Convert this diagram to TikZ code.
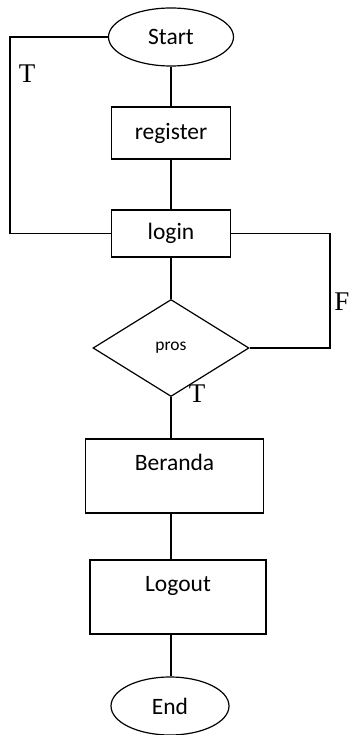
\documentclass[tikz,border=0pt]{standalone}
\usepackage{fontspec}
\setmainfont{Carlito}
\newfontfamily\tffont{Liberation Serif}
\usetikzlibrary{shapes.geometric}
\tikzset{
  flowline/.style = {line width=1.2pt},
  termnode/.style = {ellipse, draw, line width=1.2pt, inner sep=0pt, minimum height=58pt},
  procbox/.style  = {rectangle, draw, line width=1.2pt, inner sep=0pt, minimum width=119pt},
  tallbox/.style  = {rectangle, draw, line width=1.2pt, inner sep=0pt, text height=31pt, text depth=43pt},
  decision/.style = {diamond, draw, line width=1.2pt, inner sep=0pt, minimum width=156pt, minimum height=97pt},
  tflabel/.style  = {font=\tffont\fontsize{27}{30}\selectfont}
}

\begin{document}
\begin{tikzpicture}[x=1pt,y=-1pt,font=\fontsize{23.5}{27}\selectfont]
  \useasboundingbox (0,0) rectangle (350,735);
  \node[termnode,minimum width=125pt] (start) at (171,37) {Start};
  \node[procbox,minimum height=52pt] (register) at (171,133) {register};
  \node[procbox,minimum height=47pt] (login) at (171,233.5) {login};
  \node[decision,font=\fontsize{17.5}{20}\selectfont] (pros) at (171,348) {pros};
  \node[tallbox,minimum width=178pt] (beranda) at (174.5,476) {Beranda};
  \node[tallbox,minimum width=176pt] (logout) at (178,597) {Logout};
  \node[termnode,minimum width=118pt] (end) at (170,706) {End};
  % loop corners
  \coordinate (tl) at (10,37);
  \coordinate (bl) at (10,233.5);
  \coordinate (tr) at (330,233.5);
  \coordinate (br) at (330,348);
  % main flow
  \draw[flowline] (start) -- (register);
  \draw[flowline] (register) -- (login);
  \draw[flowline] (login) -- (pros);
  \draw[flowline] (pros.south) -- (pros.south |- beranda.north);
  \draw[flowline] (beranda.south -| pros) -- (logout.north -| pros);
  \draw[flowline] (logout.south -| pros) -- (pros |- end.north);
  % loops
  \draw[flowline] (start.west) -- (tl) -- (bl) -- (login.west);
  \draw[flowline] (login.east) -- (tr) -- (br) -- (pros.east);
  \node[tflabel] (tlabel) at (27,74) {T};
  \node[tflabel] (flabel) at (342,302) {F};
  \node[tflabel] (tlabel2) at (197,394) {T};
\end{tikzpicture}
\end{document}
